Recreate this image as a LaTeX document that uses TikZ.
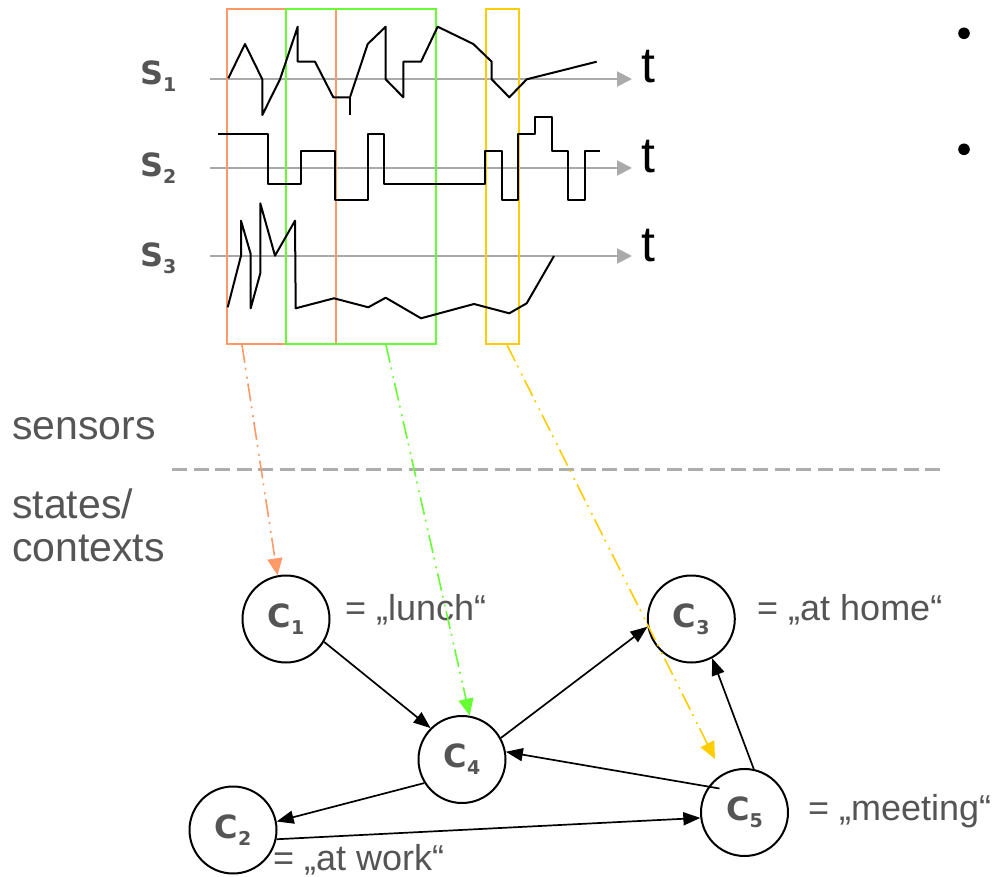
\documentclass[tikz,border=0pt]{standalone}
\usepackage{fontspec}
\setmainfont{Liberation Sans}
\newfontfamily\vfam{DejaVu Sans}
\usetikzlibrary{arrows.meta,calc}

\definecolor{txtgray}{HTML}{555555}
\definecolor{axisgray}{HTML}{AAAAAA}
\definecolor{sepgray}{HTML}{ADADAD}
\definecolor{winorange}{HTML}{FF9A66}
\definecolor{wingreen}{HTML}{66FF33}
\definecolor{winyellow}{HTML}{FFCC00}

% bold symbol with a lowered index, e.g. S_1, C_4
\newcommand\symidx[3]{{\vfam\bfseries\fontsize{#3}{#3}\selectfont #1\raisebox{-7pt}{\fontsize{19}{19}\selectfont #2}}}

\tikzset{
  axisline/.style={draw=axisgray, line width=2pt, -{Triangle[length=15pt,width=15pt]}},
  signal/.style={line width=2pt, line join=round},
  window/.style={line width=2pt},
  state/.style={circle, draw, line width=2pt, minimum size=87pt, inner sep=0pt, text=txtgray},
  trans/.style={line width=1.7pt, -{Triangle[length=17pt,width=13pt]}},
  mapto/.style={line width=1.6pt, dash pattern=on 18pt off 5pt on 2pt off 7pt on 2pt off 5pt,
                -{Triangle[length=17pt,width=15pt]}},
  sep/.style={draw=sepgray, dash pattern=on 15pt off 6.5pt},
  plain/.style={inner sep=0pt, anchor=base west, text=txtgray},
  tlabel/.style={inner sep=0pt, anchor=base west, font=\fontsize{50}{50}\selectfont},
}

\begin{document}
\begin{tikzpicture}[x=1pt,y=-1pt]
\useasboundingbox (0,0) rectangle (996,877);

% time axes and sensor names
\draw[axisline] (210,79) -- (632,79);
\draw[axisline] (210,168) -- (632,168);
\draw[axisline] (210,256) -- (632,256);
\node[tlabel] (t1) at (641,83) {t};
\node[tlabel] (t2) at (641,173) {t};
\node[tlabel] (t3) at (641,262) {t};
\node[plain] (s1) at (140,85) {\symidx{S}{1}{32}};
\node[plain] (s2) at (140,176.7) {\symidx{S}{2}{32}};
\node[plain] (s3) at (140,266.7) {\symidx{S}{3}{32}};

% observation windows
\draw[window, winorange] (226.7,9.3) rectangle (335.7,344);
\draw[window, wingreen] (285.7,9.3) rectangle (435.7,344);
\draw[window, winyellow] (485.7,9.3) rectangle (519,344);

% sensor signals
\draw[signal] (228.3,78.3) -- (245,44) -- (262.3,79.3) -- (262.3,115) -- (280,79.3)
  -- (297.7,26.7) -- (297.7,61.7) -- (315,61.7) -- (333.3,97.3) -- (350,97.3)
  -- (367.7,44) -- (385.7,26.7) -- (385.7,79.3) -- (403.3,97.3) -- (403.3,61.7)
  -- (421,61.7) -- (437.7,26.7) -- (473.3,44) -- (491.7,61.7) -- (491.7,79.3)
  -- (509.3,97.3) -- (526.7,79.3) -- (596.7,61.7);
\draw[signal] (350,97.3) -- (350,115);
\draw[signal] (218.3,134) -- (268.3,134) -- (268.3,184) -- (301,184) -- (301,150.7)
  -- (335,150.7) -- (335,200) -- (367.7,200) -- (367.7,134) -- (384.3,134)
  -- (384.3,184) -- (485,184) -- (485,150.7) -- (501.7,150.7) -- (501.7,200)
  -- (518.3,200) -- (518.3,134) -- (535,134) -- (535,116.7) -- (551.7,116.7)
  -- (551.7,150.7) -- (568.3,150.7) -- (568.3,200) -- (585,200) -- (585,150.7)
  -- (600,150.7);
\draw[signal] (227.7,307.3) -- (241,255.7) -- (241,220.7) -- (250.7,254) -- (250.7,308.3)
  -- (260.3,273.3) -- (260.3,203.3) -- (275,255.7) -- (295,220.7) -- (295.7,308.3)
  -- (334,298.3) -- (368.3,307.3) -- (385.7,297.7) -- (421,318.3) -- (474,304)
  -- (509.3,313.3) -- (526.7,303.3) -- (554,256);

% bullets
\fill (964,33.3) circle (5.8);
\fill (964,149.3) circle (5.8);

% layer separator
\node[plain, font=\fontsize{41}{41}\selectfont] (sens) at (12,439.3) {sensors};
\node[plain, font=\fontsize{41}{41}\selectfont] (stat) at (12,518.3) {states/};
\node[plain, font=\fontsize{41}{41}\selectfont] (ctx) at (12,561.7) {contexts};
\draw[sep, line width=3pt] (172,469) -- (753,469);
\draw[sep, line width=2.2pt] (753,469.5) -- (945,469.5);

% context states
\node[state] (c1) at (286,619) {\symidx{C}{1}{32}};
\node[state] (c3) at (691.3,619) {\symidx{C}{3}{32}};
\node[state] (c4) at (462,759.5) {\symidx{C}{4}{32}};
\node[state] (c2) at (233,830) {\symidx{C}{2}{32}};
\node[state] (c5) at (744.5,812.5) {\symidx{C}{5}{32}};

\node[plain, font=\fontsize{36}{36}\selectfont] (l1) at (345,620.5) {= „lunch“};
\node[plain, font=\fontsize{36}{36}\selectfont] (l3) at (757,620.5) {= „at home“};
\node[plain, font=\fontsize{36}{36}\selectfont] (l5) at (808,820) {= „meeting“};
\node[plain, font=\fontsize{36}{36}\selectfont] (l2) at (273,870) {= „at work“};

% transitions
\draw[trans] (c1.-31) -- (c4.135);
\draw[trans] (c4.29) -- (c3.190);
\draw[trans] ($(c5)+(-25,-24)$) -- (c4.10);
\draw[trans] (c5.78) -- (c3.-62);
\draw[trans] (c4.212) -- (c2.11);
\draw[trans] (c2.-12) -- (c5.187);

% windows mapped to states
\coordinate (o1) at (242,345);
\coordinate (o2) at (386,345);
\coordinate (o3) at (507,345);
\coordinate (e3) at (715,759);
\draw[mapto, winorange] (o1) -- (c1.101);
\draw[mapto, wingreen] (o2) -- (c4.80);
\draw[mapto, winyellow] (o3) -- (e3);
\end{tikzpicture}
\end{document}
